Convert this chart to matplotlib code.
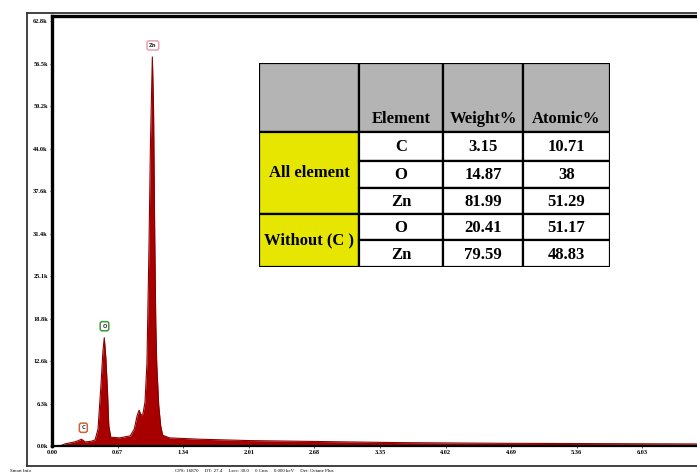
import matplotlib.pyplot as plt
from matplotlib.patches import Rectangle

# EDS spectrum (energy in keV, counts in thousands)
energy_kev = [0.00, 0.08, 0.13, 0.23, 0.27, 0.30, 0.34, 0.40, 0.44, 0.47, 0.50, 0.52,
              0.534, 0.55, 0.567, 0.58, 0.60, 0.69, 0.80, 0.84, 0.87, 0.89, 0.91,
              0.93, 0.95, 0.97, 0.99, 1.006, 1.025, 1.037, 1.05, 1.06, 1.07, 1.09,
              1.11, 1.13, 1.20, 1.51, 2.02, 2.53, 3.55, 4.58, 5.60, 6.60, 7.00]
counts_k = [0.0, 0.0, 0.3, 0.6, 0.8, 1.0, 0.6, 0.7, 0.9, 2.5, 9.0, 14.0,
            16.0, 13.0, 8.0, 3.0, 1.3, 1.2, 1.5, 2.5, 4.5, 5.3, 4.5,
            4.8, 6.5, 12.3, 29.0, 45.0, 57.5, 50.0, 30.0, 18.0, 12.0, 6.0,
            3.0, 1.6, 1.2, 1.0, 0.8, 0.7, 0.5, 0.4, 0.35, 0.3, 0.3]

# peak labels: element, energy, label height, box colour
peak_names = ["C", "O", "Zn"]
peak_x = [0.32, 0.536, 1.03]
peak_y = [2.7, 17.7, 59.2]
peak_colors = ["#c8643c", "#3c9a3c", "#e8a0b0"]

xticks = [0.00, 0.67, 1.34, 2.01, 2.68, 3.35, 4.02, 4.69, 5.36, 6.03]
yticks = [0.0, 6.28, 12.56, 18.84, 25.12, 31.4, 37.68, 43.96, 50.24, 56.52, 62.8]
ytick_labels = ["0.0k", "6.3k", "12.6k", "18.8k", "25.1k", "31.4k", "37.6k",
                "44.0k", "50.2k", "56.5k", "62.8k"]

# composition table
header = ["", "Element", "Weight%", "Atomic%"]
groups = ["All element", "Without (C )"]
group_rows = [3, 2]
elements = ["C", "O", "Zn", "O", "Zn"]
weight = ["3.15", "14.87", "81.99", "20.41", "79.59"]
atomic = ["10.71", "38", "51.29", "51.17", "48.83"]

W, H = 697, 475
fig = plt.figure(figsize=(W / 100, H / 100), dpi=100)

def px(x0, y0, x1, y1):
    # pixel box -> figure fraction [left, bottom, width, height]
    return [x0 / W, 1 - y1 / H, (x1 - x0) / W, (y1 - y0) / H]

# outer frame of the instrument screen
frame = fig.add_axes(px(27, 13, 760, 466))
frame.set_xticks([])
frame.set_yticks([])
for s in frame.spines.values():
    s.set_color("#333333")
    s.set_linewidth(1.3)
frame.patch.set_alpha(0)

ax = fig.add_axes(px(52, 16, 52 + 7.0 * 97.9, 446))
ax.fill_between(energy_kev, counts_k, color="#a80000", lw=0)
ax.plot(energy_kev, counts_k, color="#8a0000", lw=0.8)
ax.set_xlim(0, 7.0)
ax.set_ylim(0, 63.55)
ax.set_xticks(xticks)
ax.set_xticklabels([f"{v:.2f}" for v in xticks])
ax.set_yticks(yticks)
ax.set_yticklabels(ytick_labels)
ax.tick_params(length=1.5, width=0.5, labelsize=4.5, pad=1.5)
for lab in ax.get_xticklabels() + ax.get_yticklabels():
    lab.set_family("Liberation Serif")
    lab.set_fontweight("bold")
for side in ["left", "top"]:
    ax.spines[side].set_linewidth(2.4)
ax.spines["bottom"].set_linewidth(1.6)
ax.spines["right"].set_visible(False)

for name, x, y, c in zip(peak_names, peak_x, peak_y, peak_colors):
    ax.text(x, y, name, fontsize=3.8, ha="center", va="center", fontweight="bold",
            color="#333333",
            bbox=dict(boxstyle="round,pad=0.4", fc="white", ec=c, lw=1.1))

fig.text(10 / W, 1 - 471 / H, "Smart Info", fontsize=3.5, family="Liberation Serif",
         va="center")
fig.text(175 / W, 1 - 471 / H,
         "CPS: 16870     DT: 27.4     Lsec: 30.0     0 Cnts     0.000 keV     Det: Octane Plus",
         fontsize=3.5, family="Liberation Serif", va="center")

# table drawn in its own axes: columns 0..4, rows counted from the top
tab = fig.add_axes(px(259, 63, 610, 267))
tab.set_xlim(259, 610)
tab.set_ylim(267, 63)
tab.axis("off")
col_x = [259, 359, 443, 523, 610]
row_y = [63, 131.5, 161, 187.5, 214, 240, 267]
kw = dict(family="Liberation Serif", fontweight="bold", fontsize=12,
          ha="center", va="center", color="black")

for j in range(4):
    tab.add_patch(Rectangle((col_x[j], row_y[0]), col_x[j + 1] - col_x[j],
                            row_y[1] - row_y[0], fc="#b4b4b4", ec="black", lw=1.6))
    tab.text((col_x[j] + col_x[j + 1]) / 2, 119, header[j], **kw)

r = 1
for g, n in zip(groups, group_rows):
    tab.add_patch(Rectangle((col_x[0], row_y[r]), col_x[1] - col_x[0],
                            row_y[r + n] - row_y[r], fc="#e6e600", ec="black", lw=1.6))
    tab.text((col_x[0] + col_x[1]) / 2, (row_y[r] + row_y[r + n]) / 2, g, **kw)
    r += n

for i, vals in enumerate(zip(elements, weight, atomic)):
    for j, v in enumerate(vals):
        x0, x1 = col_x[j + 1], col_x[j + 2]
        y0, y1 = row_y[i + 1], row_y[i + 2]
        tab.add_patch(Rectangle((x0, y0), x1 - x0, y1 - y0, fc="white",
                                ec="black", lw=1.6))
        tab.text((x0 + x1) / 2, (y0 + y1) / 2 + 1, v, **kw)

fig.savefig("out.png", dpi=100)
